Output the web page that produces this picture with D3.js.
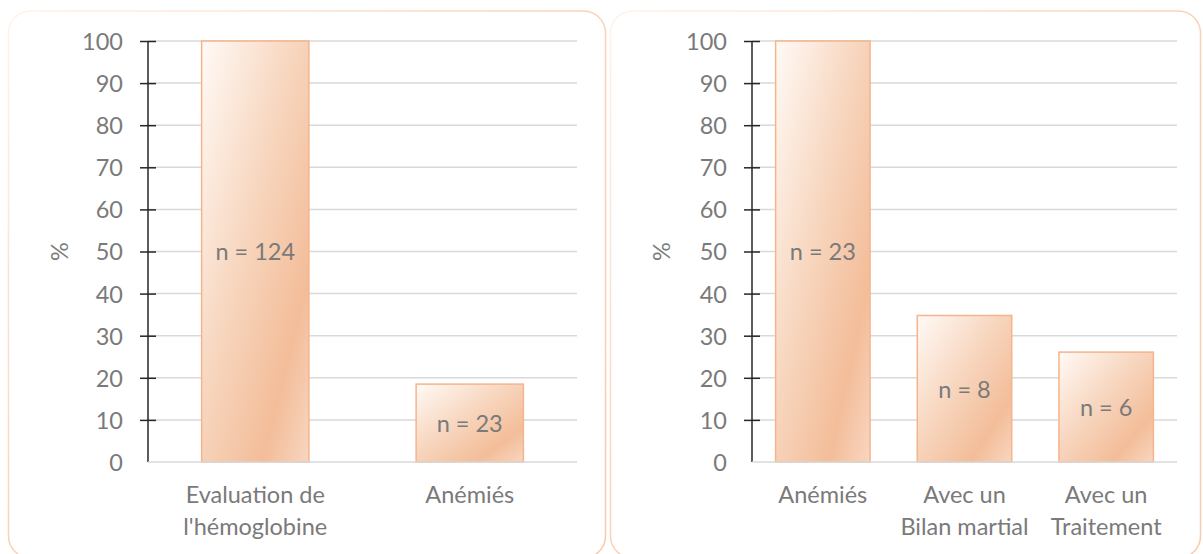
<!DOCTYPE html>
<html>
<head>
<meta charset="utf-8">
<script src="https://cdn.jsdelivr.net/npm/d3@7"></script>
<style>
  html, body { margin: 0; padding: 0; background: #ffffff; overflow: hidden; }
  svg { display: block; }
  text { font-family: Lato, "Open Sans", sans-serif; fill: #7a7a7a; }
</style>
</head>
<body>
<svg id="chart" width="1203" height="554"></svg>
<script>
// ---- data ----
const categoriesLeft = ["Evaluation de\nl'hémoglobine", "Anémiés"];
const valuesLeft = [100, 18.5];
const labelsLeft = ["n = 124", "n = 23"];

const categoriesRight = ["Anémiés", "Avec un\nBilan martial", "Avec un\nTraitement"];
const valuesRight = [100, 34.8, 26.1];
const labelsRight = ["n = 23", "n = 8", "n = 6"];

const yTicks = [0, 10, 20, 30, 40, 50, 60, 70, 80, 90, 100];
const yAxisTitle = "%";

// ---- drawing ----
const svg = d3.select("#chart");
const defs = svg.append("defs");

const barGrad = defs.append("linearGradient")
  .attr("id", "barGrad")
  .attr("x1", 0).attr("y1", 0).attr("x2", 1).attr("y2", 1);
barGrad.append("stop").attr("offset", 0).attr("stop-color", "#fffaf6");
barGrad.append("stop").attr("offset", 0.45).attr("stop-color", "#f7d5bd");
barGrad.append("stop").attr("offset", 0.78).attr("stop-color", "#f3bd99");
barGrad.append("stop").attr("offset", 1).attr("stop-color", "#f8d6c0");

const panelGrad = defs.append("linearGradient")
  .attr("id", "panelGrad")
  .attr("x1", 0).attr("y1", 0).attr("x2", 1).attr("y2", 1);
panelGrad.append("stop").attr("offset", 0).attr("stop-color", "#fef3eb");
panelGrad.append("stop").attr("offset", 0.5).attr("stop-color", "#f9d2b7");
panelGrad.append("stop").attr("offset", 1).attr("stop-color", "#f8cbad");

const FONT = 23.5;

function drawPanel(cfg) {
  const g = svg.append("g");
  // panel frame
  g.append("rect")
    .attr("x", cfg.frame[0]).attr("y", cfg.frame[1])
    .attr("width", cfg.frame[2]).attr("height", cfg.frame[3])
    .attr("rx", 22).attr("ry", 22)
    .attr("fill", "none")
    .attr("stroke", "url(#panelGrad)")
    .attr("stroke-width", 1.5);

  const y = d3.scaleLinear().domain([0, 100]).range([cfg.y0, cfg.y1]);
  const x = d3.scaleBand()
    .domain(cfg.categories)
    .range([cfg.x0, cfg.x1])
    .paddingInner(cfg.pad)
    .paddingOuter(cfg.pad / 2);

  // gridlines
  g.append("g")
    .selectAll("line")
    .data(yTicks.filter(d => d !== 0))
    .join("line")
    .attr("x1", cfg.x0).attr("x2", cfg.x1)
    .attr("y1", d => y(d)).attr("y2", d => y(d))
    .attr("stroke", "#d9d9d9").attr("stroke-width", 1.5);

  // bars
  g.append("g")
    .selectAll("rect")
    .data(cfg.values)
    .join("rect")
    .attr("x", (d, i) => x(cfg.categories[i]))
    .attr("y", d => y(d))
    .attr("width", x.bandwidth())
    .attr("height", d => y(0) - y(d))
    .attr("fill", "url(#barGrad)")
    .attr("stroke", "#f5b48c")
    .attr("stroke-width", 1.5);

  // y axis with crossing ticks
  const yAxis = d3.axisLeft(y)
    .tickValues(yTicks)
    .tickSize(8)
    .tickPadding(17)
    .tickFormat(d3.format("d"));
  const ya = g.append("g")
    .attr("transform", `translate(${cfg.x0},0)`)
    .call(yAxis);
  ya.select(".domain").attr("stroke", "#262626").attr("stroke-width", 1.5)
    .attr("d", `M0,${cfg.y0}V${cfg.y1}`);
  ya.selectAll(".tick line")
    .attr("stroke", "#262626").attr("stroke-width", 1.5)
    .attr("x1", d => d === 0 ? -8 : 8).attr("x2", -8);
  ya.selectAll(".tick text")
    .attr("font-size", FONT)
    .attr("font-family", "Lato, sans-serif")
    .attr("fill", "#7a7a7a")
    .attr("dy", "0.36em");

  // x baseline
  g.append("line")
    .attr("x1", cfg.x0).attr("x2", cfg.x1)
    .attr("y1", y(0)).attr("y2", y(0))
    .attr("stroke", "#d9d9d9").attr("stroke-width", 1.5);

  // category labels
  const xl = g.append("g");
  cfg.categories.forEach(c => {
    const lines = c.split("\n");
    const t = xl.append("text")
      .attr("text-anchor", "middle")
      .attr("font-size", FONT)
      .attr("x", x(c) + x.bandwidth() / 2)
      .attr("y", 503);
    lines.forEach((ln, j) => {
      t.append("tspan")
        .attr("x", x(c) + x.bandwidth() / 2)
        .attr("dy", j === 0 ? 0 : 32)
        .text(ln);
    });
  });

  // value labels
  g.append("g")
    .selectAll("text")
    .data(cfg.values)
    .join("text")
    .attr("text-anchor", "middle")
    .attr("font-size", FONT)
    .attr("x", (d, i) => x(cfg.categories[i]) + x.bandwidth() / 2)
    .attr("y", d => (y(d) + y(0)) / 2)
    .attr("dy", "0.38em")
    .text((d, i) => cfg.labels[i]);

  // y axis title
  g.append("text")
    .attr("text-anchor", "middle")
    .attr("font-size", FONT)
    .attr("transform", `translate(${cfg.titleX},${(cfg.y0 + cfg.y1) / 2}) rotate(-90)`)
    .attr("dy", "0.36em")
    .text(yAxisTitle);
}

drawPanel({
  frame: [8.5, 11, 597, 547],
  x0: 148, x1: 577, y0: 462, y1: 41,
  pad: 0.5,
  categories: categoriesLeft, values: valuesLeft, labels: labelsLeft,
  titleX: 60
});

drawPanel({
  frame: [610.5, 11, 590, 547],
  x0: 752, x1: 1177, y0: 462, y1: 41,
  pad: 1 / 3,
  categories: categoriesRight, values: valuesRight, labels: labelsRight,
  titleX: 662
});
</script>
</body>
</html>
